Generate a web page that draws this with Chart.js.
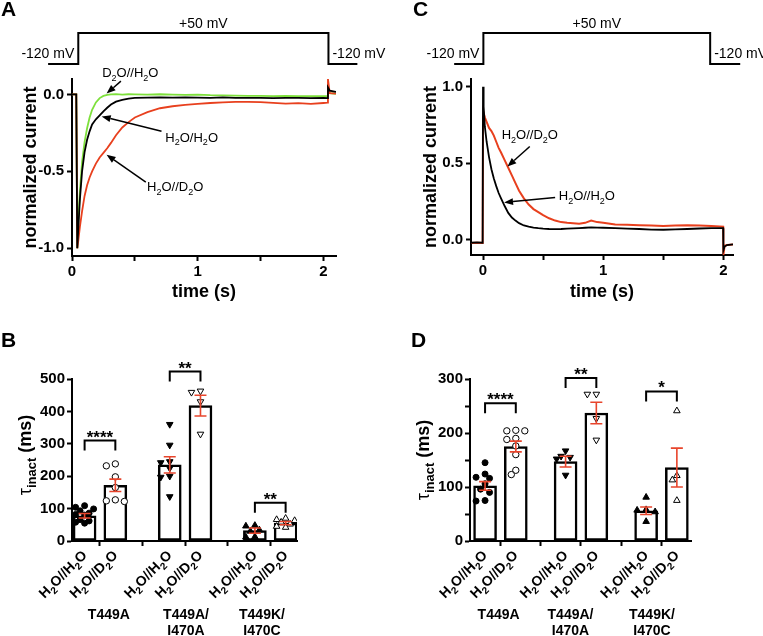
<!DOCTYPE html>
<html lang="en">
<head>
<meta charset="UTF-8" />
<title>Inactivation kinetics in D2O</title>
<script src="https://cdn.jsdelivr.net/npm/chart.js@4.4.1/dist/chart.umd.min.js"></script>
<style>
  body { margin: 0; background: #fff; }
  #wrap { position: relative; width: 763px; height: 636px; overflow: hidden; background: #fff; }
  canvas { position: absolute; }
</style>
</head>
<body>
<div id="wrap">
  <canvas id="chartC" width="382" height="310" style="left:381px;top:0"></canvas>
  <canvas id="chartA" width="400" height="310" style="left:0;top:0"></canvas>
  <canvas id="chartB" width="381" height="326" style="left:0;top:310px"></canvas>
  <canvas id="chartD" width="382" height="326" style="left:381px;top:310px"></canvas>
</div>
<script>
// ---- panel A: normalized current, time in s
const timeA = [0, 0.034, 0.042, 0.05, 0.063, 0.08, 0.1, 0.12, 0.14, 0.16, 0.19, 0.22, 0.25, 0.28, 0.31, 0.35, 0.4, 0.45, 0.5, 0.6,
               0.7, 0.8, 0.9, 1.0, 1.1, 1.2, 1.3, 1.4, 1.5, 1.6, 1.7, 1.8, 1.9, 2.0, 2.034, 2.036, 2.05, 2.1];
const d2oH2oA = [0, 0, -1.0, -0.82, -0.63, -0.44, -0.31, -0.22, -0.15, -0.1, -0.052, -0.024, -0.01, -0.003, 0.0, 0.002, -0.001, 0.001, 0.0, -0.002,
                 0.001, -0.001, -0.003, -0.002, -0.005, -0.006, -0.008, -0.01, -0.009, -0.011, -0.01, -0.012, -0.011, -0.012, -0.012, 0.03, 0.008, 0.004];
const h2oH2oA = [0, 0, -1.0, -0.87, -0.68, -0.5, -0.375, -0.295, -0.24, -0.195, -0.162, -0.137, -0.11, -0.087, -0.066, -0.047, -0.035, -0.028, -0.023, -0.021,
                 -0.02, -0.021, -0.019, -0.021, -0.022, -0.02, -0.022, -0.023, -0.022, -0.024, -0.022, -0.023, -0.024, -0.023, -0.024, 0.045, 0.024, 0.016];
const h2oD2oA = [0, 0, -1.0, -0.95, -0.86, -0.76, -0.66, -0.59, -0.54, -0.5, -0.45, -0.41, -0.38, -0.35, -0.315, -0.265, -0.215, -0.18, -0.15, -0.115,
                 -0.09, -0.077, -0.068, -0.061, -0.056, -0.052, -0.049, -0.048, -0.05, -0.055, -0.06, -0.057, -0.062, -0.056, -0.054, 0.1, 0.008, 0.005];

// ---- panel C
const timeC = [-0.1, -0.05, -0.003, 0, 0.005, 0.015, 0.03, 0.05, 0.07, 0.09, 0.11, 0.13, 0.15, 0.18, 0.21, 0.24, 0.27, 0.3, 0.34, 0.38,
               0.42, 0.46, 0.5, 0.55, 0.6, 0.65, 0.7, 0.75, 0.8, 0.85, 0.9, 0.95, 1.0, 1.1, 1.2, 1.3, 1.4, 1.5, 1.6, 1.7,
               1.8, 1.9, 1.97, 1.998, 2.0, 2.01, 2.03, 2.08];
const h2oH2oC = [-0.02, -0.018, -0.02, 1.0, 0.87, 0.74, 0.64, 0.54, 0.46, 0.4, 0.35, 0.305, 0.27, 0.22, 0.175, 0.145, 0.125, 0.108, 0.093, 0.085,
                 0.079, 0.075, 0.072, 0.07, 0.069, 0.07, 0.072, 0.074, 0.076, 0.078, 0.08, 0.079, 0.078, 0.075, 0.072, 0.07, 0.066, 0.065, 0.067, 0.07,
                 0.073, 0.075, 0.076, 0.075, -0.07, -0.045, -0.035, -0.03];
const h2oD2oC = [-0.022, -0.02, -0.022, 0.8, 0.83, 0.8, 0.77, 0.73, 0.71, 0.68, 0.64, 0.6, 0.57, 0.52, 0.47, 0.42, 0.37, 0.32, 0.27, 0.23,
                 0.2, 0.18, 0.16, 0.14, 0.125, 0.115, 0.11, 0.108, 0.105, 0.11, 0.125, 0.115, 0.11, 0.1, 0.097, 0.095, 0.092, 0.09, 0.093, 0.095,
                 0.093, 0.09, 0.087, 0.085, -0.1, -0.04, -0.035, -0.032];

// voltage protocol (mV)
const protoVolt = [-120, -120, 50, 50, -120, -120];
const protoTimeA = [-0.19, 0.05, 0.05, 2.04, 2.04, 2.27];
const protoTimeC = [-0.24, 0.003, 0.003, 1.89, 1.89, 2.14];

// ---- panels B and D: tau inact (ms)
const groups = [['T449A'], ['T449A/', 'I470A'], ['T449K/', 'I470C']];
const conditions = ['H_2O//H_2O', 'H_2O//D_2O'];

const meanB = [78, 172, 235, 418, 32, 55];
const semB = [7, 19, 25, 32, 8, 5];
const cellsB = [
  [109, 104, 99, 93, 86, 82, 80, 66, 62, 58, 55],
  [238, 232, 198, 165, 127, 124, 122],
  [360, 296, 245, 242, 225, 200, 197, 137],
  [463, 459, 430, 330],
  [48, 46, 34, 30, 13, 12],
  [70, 66, 63, 58, 52, 45, 42]
];
const sigPairsB = [[0, 1], [2, 3], [4, 5]];
const sigLevelB = [310, 523, 118];
const sigStarsB = ['****', '**', '**'];

const meanD = [102, 175, 147, 237, 56, 136];
const semD = [8, 10, 10, 20, 7, 36];
const cellsD = [
  [145, 124, 118, 116, 106, 96, 90, 75, 74],
  [205, 204, 204, 190, 188, 176, 160, 131, 123],
  [167, 157, 155, 152, 122],
  [272, 272, 227, 187],
  [81, 58, 57, 54, 36],
  [241, 121, 113, 75]
];
const sigPairsD = [[0, 1], [2, 3], [4, 5]];
const sigLevelD = [255, 302, 277];
const sigStarsD = ['****', '**', '*'];

// ---------------------------------------------------------------
const FONT = "'Liberation Sans', Arial, Helvetica, sans-serif";
const RED = '#e8401e', GREEN = '#7ee03c', ERR = '#e8452c';

Chart.defaults.font.family = FONT;
Chart.defaults.color = '#000';
Chart.defaults.animation = false;
Chart.defaults.responsive = false;
Chart.defaults.events = [];
Chart.defaults.plugins.legend.display = false;
Chart.defaults.plugins.tooltip.enabled = false;

function pts(xs, ys) { return xs.map((x, i) => ({ x: x, y: ys[i] })); }

// "_2" marks a subscript character
function parseRich(s) {
  const parts = [];
  let buf = '';
  for (let i = 0; i < s.length; i++) {
    if (s[i] === '_') {
      if (buf) parts.push({ t: buf });
      parts.push({ t: s[i + 1], sub: true });
      buf = '';
      i++;
    } else buf += s[i];
  }
  if (buf) parts.push({ t: buf });
  return parts;
}

// y is the baseline
function drawRich(ctx, parts, x, y, size, weight, align) {
  const fontOf = p => (p.w || weight) + ' ' + (p.sub ? Math.round(size * 0.72) : size) + 'px ' + FONT;
  let total = 0;
  parts.forEach(p => { ctx.font = fontOf(p); total += ctx.measureText(p.t).width; });
  let cx = align === 'center' ? x - total / 2 : align === 'right' ? x - total : x;
  ctx.textAlign = 'left';
  ctx.textBaseline = 'alphabetic';
  parts.forEach(p => {
    ctx.font = fontOf(p);
    ctx.fillText(p.t, cx, p.sub ? y + size * 0.28 : y);
    cx += ctx.measureText(p.t).width;
  });
}

function arrow(ctx, x1, y1, x2, y2) {
  const a = Math.atan2(y2 - y1, x2 - x1), L = 9, W = 3.5;
  const bx = x2 - L * Math.cos(a), by = y2 - L * Math.sin(a);
  ctx.lineWidth = 1.5;
  ctx.beginPath(); ctx.moveTo(x1, y1); ctx.lineTo(bx, by); ctx.stroke();
  ctx.beginPath();
  ctx.moveTo(x2, y2);
  ctx.lineTo(bx + W * Math.sin(a), by - W * Math.cos(a));
  ctx.lineTo(bx - W * Math.sin(a), by + W * Math.cos(a));
  ctx.closePath();
  ctx.fill();
}

function axisLook() {
  return {
    border: { display: true, color: '#000', width: 2 },
    grid: { display: true, drawOnChartArea: false, drawTicks: true, tickLength: 5, tickWidth: 2, tickColor: '#000' }
  };
}

// hidden scale that puts -120 mV at y=64 and +50 mV at y=33 of the page
function protoRange(top, bottom) {
  const k = (64 - 33) / 170;
  return { min: -120 - (bottom - 64) / k, max: -120 - (top - 64) / k };
}

function tracePanel(id, c) {
  const pr = protoRange(c.top, c.bottom);
  const datasets = c.traces.map(t => ({
    data: pts(c.time, t.y), borderColor: t.color, borderWidth: t.width || 1.8,
    pointRadius: 0, tension: 0, fill: false, order: t.order
  }));
  datasets.push({
    data: pts(c.protoTime, protoVolt), yAxisID: 'yp', borderColor: '#000', borderWidth: 2,
    pointRadius: 0, tension: 0, clip: false, order: 0
  });

  const extras = {
    id: 'traceExtras',
    afterDraw(chart) {
      const ctx = chart.ctx, xs = chart.scales.x, ys = chart.scales.y, yp = chart.scales.yp;
      ctx.save();
      ctx.fillStyle = '#000';
      ctx.strokeStyle = '#000';
      const upX = xs.getPixelForValue(c.protoTime[1]);
      const downX = xs.getPixelForValue(c.protoTime[3]);
      const hiY = yp.getPixelForValue(protoVolt[2]);
      const loY = yp.getPixelForValue(protoVolt[0]);
      ctx.font = '14px ' + FONT;
      ctx.textBaseline = 'alphabetic';
      ctx.textAlign = 'center';
      ctx.fillText('+' + protoVolt[2] + ' mV', (upX + downX) / 2, hiY - 5);
      ctx.textAlign = 'right';
      ctx.fillText(protoVolt[0] + ' mV', upX - 4, loY - 6);
      ctx.textAlign = 'left';
      ctx.fillText(protoVolt[5] + ' mV', downX + 4, loY - 6);

      c.notes.forEach(n => {
        drawRich(ctx, parseRich(n.text), xs.getPixelForValue(n.tx), ys.getPixelForValue(n.ty) + 4.5, 13, 'normal', 'center');
        arrow(ctx, xs.getPixelForValue(n.ax), ys.getPixelForValue(n.ay), xs.getPixelForValue(n.hx), ys.getPixelForValue(n.hy));
      });

      ctx.font = 'bold 21px ' + FONT;
      ctx.textAlign = 'left';
      ctx.fillText(c.letter, c.letterX, 16);
      ctx.restore();
    }
  };

  return new Chart(document.getElementById(id).getContext('2d'), {
    type: 'line',
    data: { datasets: datasets },
    options: {
      layout: { padding: { top: c.top, right: c.padRight, bottom: 0, left: 0 } },
      scales: {
        x: Object.assign({
          type: 'linear', min: c.xMin, max: c.xMax,
          afterBuildTicks: s => { s.ticks = [0, 0.5, 1, 1.5, 2].map(v => ({ value: v })); },
          afterFit: s => { s.height = c.xHeight; s.paddingLeft = 0; s.paddingRight = 0; },
          ticks: { font: { size: 15, weight: 'bold' }, padding: 2, maxRotation: 0, autoSkip: false,
                   callback: v => (Number.isInteger(v) ? String(v) : '') },
          title: { display: true, text: 'time (s)', font: { size: 18, weight: 'bold' }, padding: { top: 0, bottom: 7 } }
        }, axisLook()),
        y: Object.assign({
          type: 'linear', min: c.yMin, max: c.yMax,
          afterBuildTicks: s => { s.ticks = c.yTicks.map(v => ({ value: v })); },
          afterFit: s => { s.width = c.yWidth; s.paddingTop = 0; s.paddingBottom = 0; },
          ticks: { font: { size: 15, weight: 'bold' }, padding: 3, callback: v => v.toFixed(1) },
          title: { display: true, text: 'normalized current', font: { size: 18, weight: 'bold' },
                   padding: { top: c.yTitlePad, bottom: 0 } }
        }, axisLook()),
        yp: { type: 'linear', display: false, min: pr.min, max: pr.max }
      }
    },
    plugins: [extras]
  });
}

tracePanel('chartA', {
  letter: 'A', letterX: 1,
  time: timeA, protoTime: protoTimeA,
  traces: [
    { y: d2oH2oA, color: GREEN, order: 3 },
    { y: h2oD2oA, color: RED, order: 2 },
    { y: h2oH2oA, color: '#000', order: 1 }
  ],
  top: 79, bottom: 256, padRight: 64, xHeight: 54, yWidth: 72, yTitlePad: 20,
  xMin: 0, xMax: 2.1, yMin: -1.05, yMax: 0.1, yTicks: [-1, -0.5, 0],
  notes: [
    { text: 'D_2O//H_2O', tx: 0.464, ty: 0.143, ax: 0.389, ay: 0.086, hx: 0.275, hy: 0.005 },
    { text: 'H_2O/H_2O', tx: 0.952, ty: -0.279, ax: 0.712, ay: -0.24, hx: 0.236, hy: -0.143 },
    { text: 'H_2O//D_2O', tx: 0.821, ty: -0.598, ax: 0.587, ay: -0.57, hx: 0.275, hy: -0.392 }
  ]
});

tracePanel('chartC', {
  letter: 'C', letterX: 32,
  time: timeC, protoTime: protoTimeC,
  traces: [
    { y: h2oD2oC, color: RED, order: 2, width: 2 },
    { y: h2oH2oC, color: '#000', order: 1 }
  ],
  top: 79, bottom: 255, padRight: 30, xHeight: 55, yWidth: 90, yTitlePad: 39,
  xMin: -0.1, xMax: 2.08, yMin: -0.1, yMax: 1.05, yTicks: [0, 0.5, 1],
  notes: [
    { text: 'H_2O//D_2O', tx: 0.389, ty: 0.685, ax: 0.389, ay: 0.609, hx: 0.203, hy: 0.478 },
    { text: 'H_2O//H_2O', tx: 0.864, ty: 0.289, ax: 0.6, ay: 0.276, hx: 0.175, hy: 0.243 }
  ]
});

// spread the single-cell points sideways where they would overlap (pixel units)
function spread(vals, pxPerVal, pxPerUnit) {
  const placed = [];
  return vals.map(v => {
    const py = v * pxPerVal;
    let best = 0, bestD = -1;
    for (const s of [0, -1, 1, -2, 2]) {
      const cand = s * 4.5;
      const d = placed.length ? Math.min(...placed.map(q => Math.hypot(q.x - cand, q.y - py))) : Infinity;
      if (d >= 6) { best = cand; break; }
      if (d > bestD) { bestD = d; best = cand; }
    }
    placed.push({ x: best, y: py });
    return best / pxPerUnit;
  });
}

const markers = [
  { style: 'circle', rot: 0, filled: true, r: 3 },
  { style: 'circle', rot: 0, filled: false, r: 3.2 },
  { style: 'triangle', rot: 180, filled: true, r: 3.8 },
  { style: 'triangle', rot: 180, filled: false, r: 3.8 },
  { style: 'triangle', rot: 0, filled: true, r: 3.8 },
  { style: 'triangle', rot: 0, filled: false, r: 3.8 }
];

function barPanel(id, p) {
  const pos = p.means.map((_, i) => Math.floor(i / 2) * p.gap + (i % 2));
  const pxPerUnit = 30.74;
  const pxPerVal = 162 / p.yMax;

  const datasets = [{
    type: 'bar', data: pts(pos, p.means), backgroundColor: '#fff', borderColor: '#000',
    borderWidth: 2.5, borderSkipped: false, barThickness: 23, order: 10
  }];
  p.cells.forEach((vals, i) => {
    const off = spread(vals, pxPerVal, pxPerUnit);
    const m = markers[i];
    datasets.push({
      type: 'scatter', data: vals.map((v, k) => ({ x: pos[i] + off[k], y: v })),
      pointStyle: m.style, pointRotation: m.rot, pointRadius: m.r,
      pointBackgroundColor: m.filled ? '#000' : '#fff', pointBorderColor: '#000', pointBorderWidth: 1,
      showLine: false, order: 1
    });
  });

  const extras = {
    id: 'barExtras',
    afterDatasetsDraw(chart) {
      const ctx = chart.ctx, xs = chart.scales.x, ys = chart.scales.y;
      ctx.save();
      ctx.strokeStyle = ERR;
      ctx.lineWidth = 1.6;
      p.means.forEach((m, i) => {
        const x = xs.getPixelForValue(pos[i]);
        const yHi = ys.getPixelForValue(m + p.sems[i]), yLo = ys.getPixelForValue(m - p.sems[i]);
        ctx.beginPath();
        ctx.moveTo(x, yHi); ctx.lineTo(x, yLo);
        ctx.moveTo(x - 6, yHi); ctx.lineTo(x + 6, yHi);
        ctx.moveTo(x - 6, yLo); ctx.lineTo(x + 6, yLo);
        ctx.stroke();
      });
      ctx.strokeStyle = '#000';
      ctx.fillStyle = '#000';
      ctx.lineWidth = 2;
      p.sigPairs.forEach((pair, k) => {
        const x1 = xs.getPixelForValue(pos[pair[0]]), x2 = xs.getPixelForValue(pos[pair[1]]);
        const y = ys.getPixelForValue(p.sigLevel[k]);
        ctx.beginPath();
        ctx.moveTo(x1, y + 10); ctx.lineTo(x1, y); ctx.lineTo(x2, y); ctx.lineTo(x2, y + 10);
        ctx.stroke();
        ctx.font = 'bold 17px ' + FONT;
        ctx.textAlign = 'center';
        ctx.textBaseline = 'alphabetic';
        ctx.fillText(p.sigStars[k], (x1 + x2) / 2, y + 2);
      });
      ctx.restore();
    },
    afterDraw(chart) {
      const ctx = chart.ctx, xs = chart.scales.x, ys = chart.scales.y;
      const axisY = ys.getPixelForValue(0);
      ctx.save();
      ctx.fillStyle = '#000';
      // rotated condition labels
      pos.forEach((v, i) => {
        ctx.save();
        ctx.translate(xs.getPixelForValue(v) + 3, axisY + 15);
        ctx.rotate(-Math.PI / 4);
        drawRich(ctx, parseRich(conditions[i % 2]), 0, 0, 14, 'bold', 'right');
        ctx.restore();
      });
      // mutant names
      ctx.font = 'bold 14px ' + FONT;
      ctx.textAlign = 'center';
      ctx.textBaseline = 'alphabetic';
      groups.forEach((lines, g) => {
        const x = xs.getPixelForValue(p.groupLabelAt[g]);
        lines.forEach((t, j) => ctx.fillText(t, x, 309 + j * 16));
      });
      // y title
      ctx.save();
      ctx.translate(p.titleX, p.titleY);
      ctx.rotate(-Math.PI / 2);
      drawRich(ctx, [{ t: 'τ', w: 'normal' }, { t: 'inact', sub: true }, { t: ' (ms)' }], 0, 0, 18, 'bold', 'center');
      ctx.restore();
      // panel letter
      ctx.font = 'bold 21px ' + FONT;
      ctx.textAlign = 'left';
      ctx.fillText(p.letter, p.letterX, 37);
      ctx.restore();
    }
  };

  const yTicks = [];
  for (let v = 0; v <= p.yMax; v += p.yTickStep) yTicks.push(v);

  return new Chart(document.getElementById(id).getContext('2d'), {
    type: 'bar',
    data: { datasets: datasets },
    options: {
      layout: { padding: { top: 69, right: p.padRight, bottom: 0, left: 0 } },
      scales: {
        x: Object.assign({
          type: 'linear', min: p.xMin, max: p.xMax, offset: false,
          afterBuildTicks: s => { s.ticks = pos.map(v => ({ value: v })); },
          afterFit: s => { s.height = 95; s.paddingLeft = 0; s.paddingRight = 0; },
          ticks: { display: false }
        }, axisLook()),
        y: Object.assign({
          type: 'linear', min: 0, max: p.yMax,
          afterBuildTicks: s => { s.ticks = yTicks.map(v => ({ value: v })); },
          afterFit: s => { s.width = p.yWidth; s.paddingTop = 0; s.paddingBottom = 0; },
          ticks: { font: { size: 15, weight: 'bold' }, padding: 2, callback: v => (v % 100 === 0 ? String(v) : '') }
        }, axisLook())
      }
    },
    plugins: [extras]
  });
}

barPanel('chartB', {
  letter: 'B', letterX: 1,
  means: meanB, sems: semB, cells: cellsB,
  sigPairs: sigPairsB, sigLevel: sigLevelB, sigStars: sigStarsB,
  yMax: 500, yTickStep: 100, gap: 2.77, xMin: -0.41, xMax: 6.91,
  yWidth: 72, padRight: 84, groupLabelAt: [0.79, 3.3, 5.77],
  titleX: 31, titleY: 145
});

barPanel('chartD', {
  letter: 'D', letterX: 30,
  means: meanD, sems: semD, cells: cellsD,
  sigPairs: sigPairsD, sigLevel: sigLevelD, sigStars: sigStarsD,
  yMax: 300, yTickStep: 50, gap: 2.62, xMin: -0.49, xMax: 6.7,
  yWidth: 89, padRight: 72, groupLabelAt: [0.44, 2.78, 5.43],
  titleX: 48, titleY: 150
});
</script>
</body>
</html>
